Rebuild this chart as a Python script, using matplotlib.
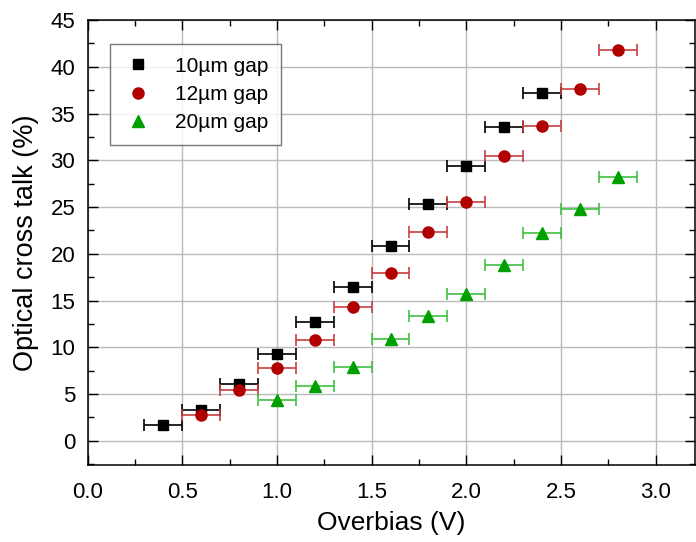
import matplotlib
matplotlib.use("Agg")
from matplotlib import pyplot as plt
from matplotlib.ticker import MultipleLocator

plt.rcParams['font.family'] = ['Liberation Sans', 'DejaVu Sans']

# overbias (V) and optical cross talk (%)
x10 = [0.4, 0.6, 0.8, 1.0, 1.2, 1.4, 1.6, 1.8, 2.0, 2.2, 2.4]
y10 = [1.7, 3.3, 6.1, 9.3, 12.7, 16.4, 20.8, 25.3, 29.4, 33.6, 37.2]

x12 = [0.6, 0.8, 1.0, 1.2, 1.4, 1.6, 1.8, 2.0, 2.2, 2.4, 2.6, 2.8]
y12 = [2.8, 5.4, 7.8, 10.8, 14.3, 17.9, 22.3, 25.5, 30.5, 33.7, 37.6, 41.8]

x20 = [1.0, 1.2, 1.4, 1.6, 1.8, 2.0, 2.2, 2.4, 2.6, 2.8]
y20 = [4.4, 5.9, 7.9, 10.9, 13.3, 15.7, 18.8, 22.2, 24.8, 28.2]

xerr = 0.1

fig = plt.figure(figsize=(6.96, 5.42), dpi=100)
ax = fig.add_axes([0.126, 0.142, 0.873, 0.821])

ax.grid(True, color='#bbbbbb', linewidth=1.0, zorder=0)
ax.set_axisbelow(True)

series = [
    (x10, y10, 's', 'black', 'black', '10µm gap', 7),
    (x12, y12, 'o', '#b00000', '#c84040', '12µm gap', 8),
    (x20, y20, '^', '#00a000', '#40c040', '20µm gap', 8),
]
for xs, ys, mk, col, ecol, lab, ms in series:
    ax.errorbar(xs, ys, xerr=xerr, fmt='none', ecolor=ecol,
                elinewidth=1.2, capsize=4, capthick=1.2, zorder=3)
    ax.plot(xs, ys, mk, color=col, markersize=ms, label=lab, zorder=4)

ax.set_xlim(0, 3.21)
ax.set_ylim(-2.6, 45)
ax.xaxis.set_major_locator(MultipleLocator(0.5))
ax.xaxis.set_minor_locator(MultipleLocator(0.25))
ax.yaxis.set_major_locator(MultipleLocator(5))
ax.yaxis.set_minor_locator(MultipleLocator(2.5))
ax.xaxis.set_major_formatter(plt.FuncFormatter(lambda v, p: f"{v:.1f}"))
ax.tick_params(which='both', direction='in', top=True, right=True, labelsize=16)
ax.tick_params(which='major', length=7, width=1)
ax.tick_params(which='minor', length=4, width=1)
ax.tick_params(axis='x', pad=12)
ax.tick_params(axis='y', pad=9)
for s in ax.spines.values():
    s.set_linewidth(1.1)

ax.set_xlabel('Overbias (V)', fontsize=19, labelpad=6)
ax.set_ylabel('Optical cross talk (%)', fontsize=19.5, labelpad=8)

leg = ax.legend(loc='upper left', bbox_to_anchor=(0.03, 0.955), fontsize=15,
                frameon=True, fancybox=False, edgecolor='#555555',
                handlelength=1.5, handletextpad=1.0, borderpad=0.6,
                labelspacing=0.45, borderaxespad=0.2)
leg.get_frame().set_linewidth(1.0)

fig.savefig('out.png', dpi=100)
